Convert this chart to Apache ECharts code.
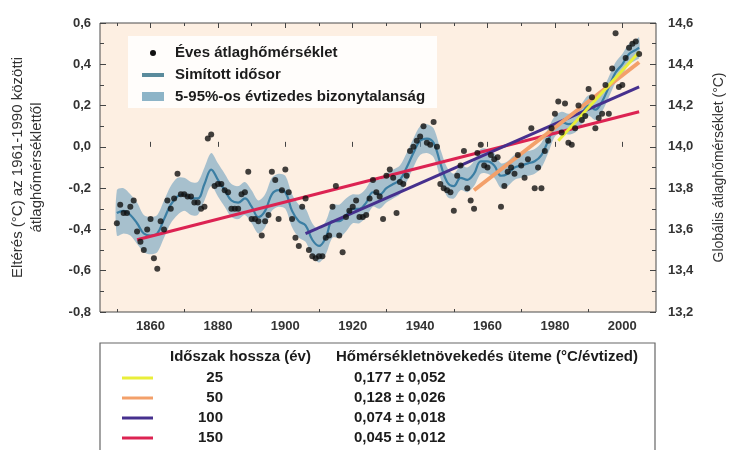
<!DOCTYPE html>
<html>
<head>
<meta charset="utf-8">
<script src="https://cdn.jsdelivr.net/npm/echarts@6/dist/echarts.min.js"></script>
<style>html,body{margin:0;padding:0;background:#fff;}#c{width:729px;height:450px;}</style>
</head>
<body>
<div id="c"></div>
<script>
// Annual anomalies 1850-2005 (°C vs 1961-1990)
const firstYear = 1850;
const annual = [
 -0.37,-0.28,-0.32,-0.32,-0.29,-0.26,-0.41,-0.46,-0.50,-0.40,
 -0.35,-0.54,-0.59,-0.36,-0.40,-0.26,-0.30,-0.25,-0.13,-0.23,
 -0.23,-0.24,-0.24,-0.27,-0.27,-0.30,-0.29,0.04,0.06,-0.19,
 -0.18,-0.18,-0.21,-0.22,-0.30,-0.30,-0.30,-0.23,-0.22,-0.12,
 -0.35,-0.35,-0.36,-0.43,-0.36,-0.33,-0.12,-0.16,-0.35,-0.21,
 -0.11,-0.22,-0.35,-0.44,-0.48,-0.29,-0.25,-0.50,-0.53,-0.54,
 -0.53,-0.53,-0.44,-0.43,-0.29,-0.19,-0.43,-0.51,-0.34,-0.31,
 -0.29,-0.26,-0.34,-0.34,-0.33,-0.25,-0.16,-0.22,-0.24,-0.35,
 -0.14,-0.11,-0.15,-0.32,-0.17,-0.18,-0.14,-0.02,0.00,0.03,
 0.05,0.10,0.02,0.01,0.12,0.00,-0.18,-0.20,-0.21,-0.22,
 -0.31,-0.14,-0.09,-0.02,-0.20,-0.26,-0.30,-0.03,0.01,-0.09,
 -0.10,-0.04,-0.06,-0.05,-0.29,-0.19,-0.12,-0.10,-0.13,-0.04,
 -0.09,-0.15,-0.06,0.09,-0.20,-0.10,-0.20,-0.02,0.03,0.09,
 0.16,0.22,0.07,0.21,0.02,0.01,0.09,0.20,0.13,0.15,
 0.28,0.24,0.09,0.14,0.16,0.30,0.16,0.38,0.55,0.29,
 0.30,0.43,0.48,0.50,0.51,0.45
];
// Smoothed series
const smoothYears = [
 1850,1852,1854,1856,1858,1860,1862,1864,1866,1868,
 1870,1872,1874,1876,1878,1880,1882,1884,1886,1888,
 1890,1892,1894,1896,1898,1900,1902,1904,1906,1908,
 1910,1912,1914,1916,1918,1920,1922,1924,1926,1928,
 1930,1932,1934,1936,1938,1940,1942,1944,1946,1948,
 1950,1952,1954,1956,1958,1960,1962,1964,1966,1968,
 1970,1972,1974,1976,1978,1980,1982,1984,1986,1988,
 1990,1992,1994,1996,1998,2000,2002,2004,2005
];
const smoothVals = [
 -0.32,-0.31,-0.33,-0.37,-0.42,-0.43,-0.42,-0.35,-0.28,-0.24,
 -0.23,-0.25,-0.25,-0.18,-0.11,-0.16,-0.21,-0.26,-0.27,-0.25,
 -0.29,-0.34,-0.31,-0.23,-0.21,-0.22,-0.31,-0.36,-0.38,-0.45,
 -0.48,-0.44,-0.36,-0.36,-0.33,-0.30,-0.30,-0.27,-0.22,-0.23,
 -0.20,-0.18,-0.16,-0.10,-0.03,0.03,0.04,0.02,-0.08,-0.17,
 -0.19,-0.15,-0.16,-0.13,-0.07,-0.07,-0.09,-0.14,-0.13,-0.10,
 -0.09,-0.08,-0.07,-0.04,0.03,0.10,0.12,0.11,0.12,0.16,
 0.20,0.18,0.22,0.29,0.36,0.40,0.45,0.47,0.48
];
// 5-95% half-width of the decadal band
const bandHalf = [
 0.11,0.11,0.10,0.10,0.09,0.09,0.09,0.09,0.09,0.09,
 0.08,0.08,0.08,0.08,0.08,0.08,0.08,0.08,0.08,0.08,
 0.08,0.08,0.08,0.08,0.08,0.08,0.08,0.08,0.08,0.08,
 0.08,0.08,0.08,0.08,0.08,0.07,0.07,0.07,0.07,0.07,
 0.07,0.07,0.07,0.07,0.07,0.07,0.07,0.07,0.07,0.07,
 0.06,0.06,0.06,0.06,0.06,0.06,0.06,0.06,0.06,0.06,
 0.06,0.06,0.06,0.06,0.06,0.05,0.05,0.05,0.05,0.05,
 0.05,0.05,0.05,0.05,0.05,0.05,0.05,0.05,0.05
];
// Linear trends
const trendPeriods = [25, 50, 100, 150];
const trendStartYears = [1981, 1956, 1906, 1856];
const trendEndYear = 2005;
const trendStartVals = [0.03, -0.21, -0.42, -0.45];
const trendEndVals = [0.46, 0.41, 0.29, 0.17];
const trendColors = ['#e9ee3a', '#f3a06a', '#46308e', '#dc2352'];
const trendRates = ['0,177 ± 0,052', '0,128 ± 0,026', '0,074 ± 0,018', '0,045 ± 0,012'];
// Axis ticks
const xMajorTicks = [1860, 1880, 1900, 1920, 1940, 1960, 1980, 2000];
const xMinorTicks = [1850, 1870, 1890, 1910, 1930, 1950, 1970, 1990];

const FONT = '"Liberation Sans", Arial, sans-serif';
const fmt = v => v.toFixed(1).replace('.', ',');

const dots = annual.map((v, i) => [firstYear + i, v]);
const smoothData = smoothYears.map((y, i) => [y, smoothVals[i]]);

const series = [
  { type: 'custom', silent: true, z: 1,
    data: [[smoothYears[0], smoothVals[0]]],
    renderItem: function (params, api) {
      if (params.dataIndex !== 0) return null;
      const up = smoothYears.map((y, i) => api.coord([y, smoothVals[i] + bandHalf[i]]));
      const lo = smoothYears.map((y, i) => api.coord([y, smoothVals[i] - bandHalf[i]])).reverse();
      return { type: 'polygon', shape: { points: up.concat(lo), smooth: 0.3 },
               style: { fill: 'rgba(110,160,192,0.6)' } };
    } },
  { type: 'line', data: smoothData, smooth: 0.4, symbol: 'none',
    lineStyle: { color: '#3b7ea3', width: 2.2 }, z: 2 }
];
for (let k = trendPeriods.length - 1; k >= 0; k--) {
  series.push({ type: 'line', symbol: 'none', z: 3 + (trendPeriods.length - k),
    data: [[trendStartYears[k], trendStartVals[k]], [trendEndYear, trendEndVals[k]]],
    lineStyle: { color: trendColors[k], width: k === 1 ? 4 : 3 } });
}
series.push({ type: 'scatter', data: dots, symbolSize: 6, itemStyle: { color: '#111' }, z: 10 });

const TF = 'bold 15px ' + FONT;
const graphic = [
  { type: 'rect', shape: { x: 128, y: 36, width: 309, height: 72 }, style: { fill: 'rgba(255,255,255,0.85)' }, z: 20 },
  { type: 'circle', shape: { cx: 153, cy: 53, r: 3 }, style: { fill: '#111' }, z: 21 },
  { type: 'text', x: 175, y: 53, style: { text: 'Éves átlaghőmérséklet', font: TF, fill: '#1c1c1c', verticalAlign: 'middle' }, z: 21 },
  { type: 'line', shape: { x1: 142, y1: 75, x2: 164, y2: 75 }, style: { stroke: '#5a8b9c', lineWidth: 4 }, z: 21 },
  { type: 'text', x: 175, y: 75, style: { text: 'Simított idősor', font: TF, fill: '#1c1c1c', verticalAlign: 'middle' }, z: 21 },
  { type: 'rect', shape: { x: 142, y: 92, width: 22, height: 9 }, style: { fill: '#8db4c7' }, z: 21 },
  { type: 'text', x: 175, y: 97, style: { text: '5-95%-os évtizedes bizonytalanság', font: TF, fill: '#1c1c1c', verticalAlign: 'middle' }, z: 21 },
  { type: 'rect', shape: { x: 100, y: 343, width: 555, height: 130 }, style: { fill: '#fff', stroke: '#666', lineWidth: 1.2 }, z: 20 },
  { type: 'text', x: 170, y: 357, style: { text: 'Időszak hossza (év)', font: TF, fill: '#1c1c1c', verticalAlign: 'middle' }, z: 21 },
  { type: 'text', x: 336, y: 357, style: { text: 'Hőmérsékletnövekedés üteme (°C/évtized)', font: TF, fill: '#1c1c1c', verticalAlign: 'middle' }, z: 21 }
];
trendPeriods.forEach((p, k) => {
  const y = 378 + k * 20;
  graphic.push({ type: 'line', shape: { x1: 122, y1: y, x2: 153, y2: y }, style: { stroke: trendColors[k], lineWidth: 3 }, z: 21 });
  graphic.push({ type: 'text', x: 223, y: y, style: { text: String(p), font: TF, fill: '#1c1c1c', align: 'right', verticalAlign: 'middle' }, z: 21 });
  graphic.push({ type: 'text', x: 354, y: y, style: { text: trendRates[k], font: TF, fill: '#1c1c1c', verticalAlign: 'middle' }, z: 21 });
});

const labelStyle = { color: '#333', fontFamily: FONT, fontWeight: 'bold', fontSize: 13 };
const baseX = { type: 'value', min: 1845, max: 2010, splitLine: { show: false }, axisLine: { show: false } };

const option = {
  animation: false,
  grid: { left: 100, right: 73, top: 23, bottom: 138, containLabel: false, outerBoundsMode: 'none',
          show: true, backgroundColor: '#fdefe2', borderColor: '#4a4a4a', borderWidth: 1 },
  xAxis: [
    Object.assign({}, baseX, { position: 'bottom',
      axisTick: { inside: true, length: 5, lineStyle: { color: '#444' }, customValues: xMajorTicks },
      axisLabel: Object.assign({ margin: 8, customValues: xMajorTicks, formatter: v => String(v) }, labelStyle) }),
    Object.assign({}, baseX, { position: 'bottom',
      axisTick: { inside: true, length: 3, lineStyle: { color: '#444' }, customValues: xMinorTicks },
      axisLabel: { show: false } }),
    Object.assign({}, baseX, { position: 'top',
      axisTick: { inside: true, length: 5, lineStyle: { color: '#444' }, customValues: xMajorTicks },
      axisLabel: { show: false } }),
    Object.assign({}, baseX, { position: 'top',
      axisTick: { inside: true, length: 3, lineStyle: { color: '#444' }, customValues: xMinorTicks },
      axisLabel: { show: false } })
  ],
  yAxis: [
    { type: 'value', min: -0.8, max: 0.6, interval: 0.2, position: 'left',
      axisLine: { show: false }, splitLine: { show: false },
      axisTick: { inside: true, length: 6, lineStyle: { color: '#444' } },
      minorTick: { show: true, splitNumber: 2, length: 4, lineStyle: { color: '#444' } },
      axisLabel: Object.assign({ margin: 9, formatter: fmt }, labelStyle),
      name: 'Eltérés (°C) az 1961-1990 közötti\nátlaghőmérséklettől',
      nameLocation: 'middle', nameRotate: 90, nameGap: 54,
      nameTextStyle: { color: '#333', fontFamily: FONT, fontSize: 15, lineHeight: 19 } },
    { type: 'value', min: 13.2, max: 14.6, interval: 0.2, position: 'right',
      axisLine: { show: false }, splitLine: { show: false },
      axisTick: { inside: true, length: 6, lineStyle: { color: '#444' } },
      minorTick: { show: true, splitNumber: 2, length: 4, lineStyle: { color: '#444' } },
      axisLabel: Object.assign({ margin: 12, formatter: fmt }, labelStyle),
      name: 'Globális átlaghőmérséklet (°C)',
      nameLocation: 'middle', nameRotate: 90, nameGap: 56,
      nameTextStyle: { color: '#333', fontFamily: FONT, fontSize: 14 } }
  ],
  series: series,
  graphic: graphic
};
const chart = echarts.init(document.getElementById('c'), null, { renderer: 'canvas' });
chart.setOption(option);
</script>
</body>
</html>
